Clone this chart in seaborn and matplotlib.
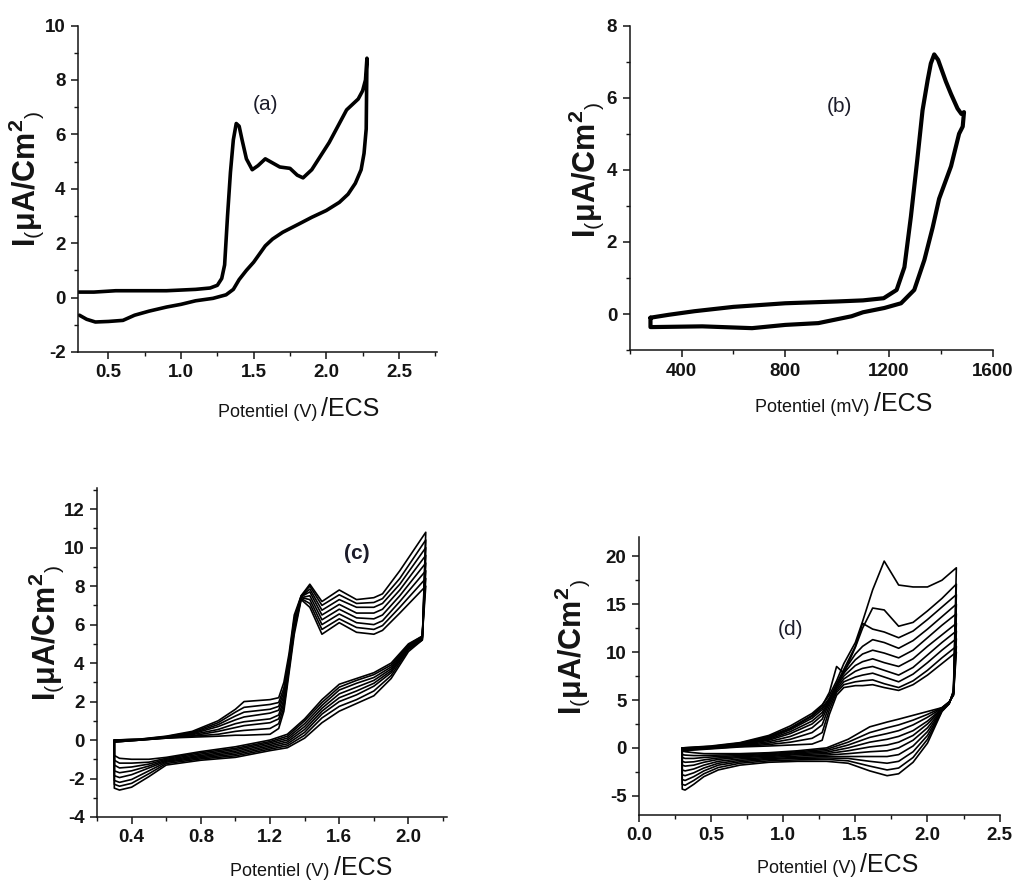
import numpy as np
import pandas as pd
import matplotlib
matplotlib.use("Agg")
import matplotlib.pyplot as plt
from matplotlib.ticker import MultipleLocator
import seaborn as sns

# ---------------- data ----------------
# (a) single cycle
Ea_fwd = [0.29, 0.40, 0.55, 0.70, 0.90, 1.10, 1.20, 1.25, 1.28, 1.30, 1.32, 1.34, 1.36, 1.38, 1.40,
          1.42, 1.45, 1.49, 1.53, 1.58, 1.63, 1.68, 1.75, 1.80, 1.84, 1.90, 1.96, 2.02, 2.08, 2.14,
          2.18, 2.22, 2.25, 2.27, 2.28]
Ia_fwd = [0.20, 0.20, 0.25, 0.25, 0.25, 0.30, 0.35, 0.45, 0.70, 1.20, 3.00, 4.60, 5.80, 6.40, 6.30,
          5.80, 5.10, 4.70, 4.85, 5.10, 4.95, 4.80, 4.75, 4.50, 4.40, 4.70, 5.20, 5.70, 6.30, 6.90,
          7.10, 7.30, 7.60, 8.00, 8.80]
Ea_rev = [2.28, 2.275, 2.26, 2.24, 2.20, 2.15, 2.09, 2.00, 1.90, 1.81, 1.70, 1.63, 1.58, 1.50, 1.45,
          1.40, 1.36, 1.31, 1.22, 1.10, 1.00, 0.90, 0.78, 0.68, 0.60, 0.50, 0.41, 0.35, 0.30]
Ia_rev = [8.80, 6.20, 5.30, 4.70, 4.20, 3.80, 3.50, 3.20, 2.95, 2.70, 2.40, 2.15, 1.90, 1.30, 1.00,
          0.66, 0.30, 0.10, -0.03, -0.12, -0.25, -0.35, -0.50, -0.65, -0.84, -0.88, -0.90, -0.80, -0.65]

# (b) single cycle, potential in mV
Eb_fwd = [280, 350, 450, 600, 800, 1000, 1100, 1180, 1230, 1260, 1285, 1310, 1330, 1350, 1362, 1375,
          1390, 1400, 1420, 1440, 1465, 1480, 1490]
Ib_fwd = [-0.10, -0.02, 0.08, 0.20, 0.30, 0.35, 0.38, 0.44, 0.67, 1.30, 2.70, 4.30, 5.65, 6.50, 6.95,
          7.20, 7.05, 6.85, 6.45, 6.10, 5.70, 5.55, 5.60]
Eb_rev = [1490, 1485, 1471, 1440, 1394, 1369, 1337, 1298, 1247, 1183, 1100, 1056, 928, 800, 672, 480,
          289, 280]
Ib_rev = [5.60, 5.20, 5.00, 4.10, 3.20, 2.40, 1.50, 0.67, 0.30, 0.17, 0.05, -0.06, -0.25, -0.30, -0.39,
          -0.34, -0.36, -0.36]

# (c) repeated cycles
Ec_fwd = [0.30, 0.45, 0.60, 0.75, 0.90, 1.00, 1.05, 1.20, 1.25, 1.28, 1.31, 1.34, 1.38, 1.43, 1.50,
          1.60, 1.70, 1.80, 1.85, 1.95, 2.10]
Ic_fwd = [
    [-0.10, 0.00, 0.10, 0.15, 0.20, 0.25, 0.25, 0.30, 0.60, 1.50, 3.50, 5.50, 7.30, 6.90, 5.50, 6.10, 5.60, 5.50, 5.70, 6.60, 8.00],
    [-0.10, 0.00, 0.10, 0.20, 0.30, 0.45, 0.50, 0.60, 0.85, 1.70, 3.70, 5.70, 7.35, 7.10, 5.75, 6.30, 5.85, 5.75, 5.95, 6.90, 8.40],
    [-0.10, 0.00, 0.12, 0.22, 0.45, 0.65, 0.75, 0.90, 1.10, 1.90, 3.80, 5.80, 7.40, 7.30, 6.00, 6.55, 6.10, 6.00, 6.20, 7.20, 8.80],
    [-0.05, 0.02, 0.13, 0.28, 0.55, 0.85, 0.95, 1.10, 1.30, 2.10, 3.90, 5.90, 7.40, 7.50, 6.25, 6.80, 6.35, 6.30, 6.50, 7.50, 9.20],
    [-0.05, 0.02, 0.15, 0.32, 0.70, 1.05, 1.20, 1.40, 1.55, 2.30, 4.00, 6.00, 7.45, 7.70, 6.50, 7.05, 6.60, 6.60, 6.80, 7.80, 9.60],
    [0.00, 0.03, 0.16, 0.36, 0.80, 1.25, 1.45, 1.60, 1.75, 2.50, 4.20, 6.20, 7.45, 7.85, 6.75, 7.30, 6.90, 6.90, 7.10, 8.10, 10.00],
    [0.00, 0.04, 0.18, 0.40, 0.90, 1.45, 1.70, 1.85, 1.95, 2.70, 4.30, 6.30, 7.50, 8.00, 7.00, 7.55, 7.10, 7.15, 7.35, 8.40, 10.40],
    [0.00, 0.05, 0.20, 0.45, 1.00, 1.60, 2.00, 2.10, 2.20, 3.00, 4.50, 6.50, 7.50, 8.10, 7.20, 7.80, 7.30, 7.40, 7.60, 8.80, 10.80],
]
Ec_rev = [2.10, 2.08, 2.00, 1.90, 1.80, 1.70, 1.60, 1.50, 1.40, 1.30, 1.20, 1.00, 0.80, 0.60, 0.50,
          0.40, 0.33, 0.30]
Ic_rev = [
    [8.0, 5.40, 5.00, 4.00, 3.50, 3.20, 2.90, 2.10, 1.10, 0.30, 0.00, -0.35, -0.60, -0.90, -1.00, -1.00, -0.95, -0.80],
    [8.4, 5.40, 4.95, 3.90, 3.40, 3.10, 2.75, 1.95, 1.00, 0.20, -0.08, -0.43, -0.66, -0.95, -1.15, -1.20, -1.20, -1.05],
    [8.8, 5.35, 4.90, 3.80, 3.25, 2.95, 2.60, 1.80, 0.85, 0.10, -0.15, -0.50, -0.73, -1.00, -1.25, -1.40, -1.45, -1.30],
    [9.2, 5.30, 4.85, 3.70, 3.10, 2.75, 2.40, 1.65, 0.70, 0.00, -0.23, -0.58, -0.80, -1.05, -1.35, -1.60, -1.70, -1.60],
    [9.6, 5.30, 4.80, 3.60, 2.95, 2.55, 2.20, 1.50, 0.55, -0.10, -0.31, -0.66, -0.86, -1.10, -1.45, -1.80, -1.95, -1.85],
    [10.0, 5.25, 4.75, 3.50, 2.80, 2.35, 2.00, 1.35, 0.40, -0.20, -0.39, -0.74, -0.92, -1.15, -1.60, -2.05, -2.20, -2.10],
    [10.4, 5.20, 4.70, 3.35, 2.55, 2.10, 1.75, 1.15, 0.25, -0.30, -0.47, -0.82, -0.98, -1.22, -1.75, -2.25, -2.40, -2.30],
    [10.8, 5.20, 4.60, 3.20, 2.30, 1.90, 1.50, 0.90, 0.10, -0.40, -0.55, -0.90, -1.05, -1.30, -1.90, -2.45, -2.60, -2.50],
]

# (d) repeated cycles
Ed_fwd = [0.30, 0.50, 0.70, 0.90, 1.05, 1.20, 1.27, 1.32, 1.37, 1.42, 1.50, 1.55, 1.62, 1.70, 1.80,
          1.90, 2.00, 2.10, 2.20]
Id_fwd = [
    [-0.30, -0.10, 0.10, 0.20, 0.30, 0.40, 0.80, 3.50, 5.50, 6.30, 6.50, 6.50, 6.60, 6.30, 6.00, 6.60, 7.60, 8.80, 10.00],
    [-0.25, -0.05, 0.15, 0.35, 0.60, 1.00, 1.60, 4.00, 5.80, 6.60, 6.90, 7.00, 7.10, 6.70, 6.30, 7.00, 8.10, 9.40, 10.60],
    [-0.20, 0.00, 0.20, 0.50, 0.90, 1.60, 2.40, 4.40, 6.00, 6.90, 7.40, 7.60, 7.80, 7.40, 6.90, 7.70, 8.90, 10.20, 11.40],
    [-0.15, 0.00, 0.25, 0.65, 1.20, 2.10, 3.00, 4.70, 6.20, 7.20, 8.00, 8.30, 8.50, 8.10, 7.60, 8.40, 9.70, 11.00, 12.20],
    [-0.10, 0.05, 0.30, 0.80, 1.50, 2.50, 3.40, 4.90, 6.40, 7.50, 8.60, 9.00, 9.30, 8.90, 8.50, 9.30, 10.60, 11.80, 13.00],
    [-0.10, 0.05, 0.35, 0.90, 1.70, 2.80, 3.70, 5.00, 6.50, 7.80, 9.20, 9.80, 10.20, 9.90, 9.40, 10.20, 11.50, 12.80, 14.00],
    [-0.05, 0.10, 0.40, 1.00, 1.90, 3.10, 4.00, 5.10, 6.60, 8.00, 9.80, 10.60, 11.30, 11.00, 10.40, 11.20, 12.40, 13.70, 15.00],
    [-0.05, 0.10, 0.45, 1.10, 2.00, 3.30, 4.20, 5.20, 6.70, 8.20, 10.60, 13.00, 12.40, 12.10, 11.50, 12.20, 13.40, 14.70, 16.00],
    [0.00, 0.15, 0.50, 1.20, 2.10, 3.40, 4.40, 5.80, 8.50, 7.80, 10.50, 12.50, 14.60, 14.40, 12.70, 13.10, 14.30, 15.60, 17.10],
    [0.00, 0.20, 0.55, 1.30, 2.30, 3.60, 4.50, 5.50, 7.00, 8.80, 11.00, 13.20, 16.50, 19.50, 17.00, 16.80, 16.80, 17.50, 18.80],
]
Ed_rev = [2.20, 2.18, 2.15, 2.10, 2.00, 1.90, 1.80, 1.72, 1.60, 1.45, 1.30, 1.10, 0.90, 0.70, 0.55,
          0.45, 0.38, 0.32, 0.30]
Id_rev = [
    [10.0, 5.5, 4.80, 4.20, 3.8, 3.4, 3.0, 2.7, 2.2, 0.9, 0.00, -0.30, -0.50, -0.60, -0.60, -0.60, -0.50, -0.40, -0.30],
    [10.6, 5.5, 4.80, 4.20, 3.5, 2.9, 2.4, 2.1, 1.6, 0.6, -0.15, -0.40, -0.60, -0.70, -0.75, -0.80, -0.80, -0.75, -0.70],
    [11.4, 5.6, 4.75, 4.15, 3.2, 2.4, 1.8, 1.5, 1.1, 0.3, -0.30, -0.50, -0.70, -0.80, -0.90, -1.00, -1.10, -1.10, -1.00],
    [12.2, 5.6, 4.70, 4.10, 2.8, 1.8, 1.2, 0.9, 0.6, 0.0, -0.45, -0.60, -0.80, -0.90, -1.05, -1.25, -1.45, -1.50, -1.40],
    [13.0, 5.7, 4.70, 4.05, 2.5, 1.3, 0.6, 0.3, 0.1, -0.3, -0.60, -0.70, -0.90, -1.00, -1.20, -1.50, -1.80, -1.90, -1.80],
    [14.0, 5.7, 4.70, 4.00, 2.1, 0.8, 0.0, -0.3, -0.4, -0.6, -0.75, -0.85, -1.00, -1.15, -1.40, -1.80, -2.20, -2.40, -2.30],
    [15.0, 5.8, 4.65, 3.95, 1.7, 0.2, -0.7, -0.9, -0.9, -0.9, -0.90, -1.00, -1.10, -1.30, -1.60, -2.10, -2.60, -2.90, -2.80],
    [16.0, 5.8, 4.65, 3.90, 1.3, -0.4, -1.4, -1.6, -1.4, -1.1, -1.05, -1.10, -1.20, -1.45, -1.80, -2.40, -3.00, -3.40, -3.30],
    [17.1, 5.9, 4.60, 3.85, 0.9, -1.0, -2.1, -2.3, -1.9, -1.35, -1.20, -1.25, -1.35, -1.60, -2.05, -2.70, -3.40, -3.90, -3.80],
    [18.8, 6.0, 4.60, 3.80, 0.5, -1.5, -2.7, -2.9, -2.4, -1.6, -1.40, -1.40, -1.50, -1.80, -2.30, -3.00, -3.80, -4.40, -4.30],
]


def cycles_frame(e_fwd, i_fwd_list, e_rev, i_rev_list, close=True):
    rows = []
    for k, (f, r) in enumerate(zip(i_fwd_list, i_rev_list)):
        E = list(e_fwd) + list(e_rev) + ([e_fwd[0]] if close else [])
        I = list(f) + list(r) + ([f[0]] if close else [])
        for j, (x, y) in enumerate(zip(E, I)):
            rows.append({"E": x, "I": y, "cycle": k, "order": j})
    return pd.DataFrame(rows)


df_a = cycles_frame(Ea_fwd, [Ia_fwd], Ea_rev, [Ia_rev], close=False)
df_b = cycles_frame(Eb_fwd, [Ib_fwd], Eb_rev, [Ib_rev])
df_c = cycles_frame(Ec_fwd, Ic_fwd, Ec_rev, Ic_rev)
df_d = cycles_frame(Ed_fwd, Id_fwd, Ed_rev, Id_rev)

# ---------------- style ----------------
sns.set_theme(style="ticks")
plt.rcParams["font.family"] = ["Liberation Sans", "DejaVu Sans"]
plt.rcParams["mathtext.fontset"] = "custom"
plt.rcParams["mathtext.rm"] = "Liberation Sans"
plt.rcParams["mathtext.bf"] = "Liberation Sans:bold"
plt.rcParams["axes.linewidth"] = 1.1
TXT = "#141414"

fig = plt.figure(figsize=(10.19, 8.82), dpi=100)

panels = [
    dict(df=df_a, rect=[0.0765, 0.601, 0.352, 0.370], lw=2.6, xlim=(0.29, 2.76), ylim=(-2, 10),
         xmaj=0.5, xmin=0.25, ymaj=2, ymin=1, xfmt="{:.1f}", tag="(a)", tagxy=(1.58, 7.1), tagbold=False,
         unit="Potentiel (V)", ylc=(-0.088, 0.53), xlc=(0.528, -0.187)),
    dict(df=df_b, rect=[0.618, 0.603, 0.356, 0.368], lw=3.0, xlim=(200, 1600), ylim=(-1, 8),
         xmaj=400, xmin=200, ymaj=2, ymin=1, xfmt="{:.0f}", tag="(b)", tagxy=(1010, 5.75), tagbold=False,
         unit="Potentiel (mV)", ylc=(-0.066, 0.555), xlc=(0.504, -0.178)),
    dict(df=df_c, rect=[0.0952, 0.0737, 0.343, 0.373], lw=1.2, xlim=(0.2, 2.22), ylim=(-4, 13.1),
         xmaj=0.4, xmin=0.2, ymaj=2, ymin=1, xfmt="{:.1f}", tag="(c)", tagxy=(1.70, 9.7), tagbold=True,
         unit="Potentiel (V)", ylc=(-0.088, 0.56), xlc=(0.523, -0.167)),
    dict(df=df_d, rect=[0.627, 0.0760, 0.354, 0.315], lw=1.2, xlim=(0.0, 2.5), ylim=(-7, 22),
         xmaj=0.5, xmin=0.25, ymaj=5, ymin=2.5, xfmt="{:.1f}", tag="(d)", tagxy=(1.05, 12.4), tagbold=False,
         unit="Potentiel (V)", ylc=(-0.130, 0.605), xlc=(0.464, -0.191)),
]

ylab = r"$\mathbf{I}{}_{(}\mathbf{\mu A/Cm}^{\mathbf{2}}{}_{)}$"

for p in panels:
    ax = fig.add_axes(p["rect"])
    sns.lineplot(data=p["df"], x="E", y="I", units="cycle", estimator=None, sort=False,
                 color="black", lw=p["lw"], ax=ax, legend=False)
    ax.set_xlim(*p["xlim"])
    ax.set_ylim(*p["ylim"])
    sns.despine(ax=ax)
    ax.xaxis.set_major_locator(MultipleLocator(p["xmaj"]))
    ax.xaxis.set_minor_locator(MultipleLocator(p["xmin"]))
    ax.yaxis.set_major_locator(MultipleLocator(p["ymaj"]))
    ax.yaxis.set_minor_locator(MultipleLocator(p["ymin"]))
    ax.tick_params(which="major", direction="out", length=5, width=1.1, labelsize=13.5,
                   colors=TXT, pad=4)
    ax.tick_params(which="minor", direction="out", length=3, width=1.0, colors=TXT)
    fmt = p["xfmt"]
    ax.xaxis.set_major_formatter(matplotlib.ticker.FuncFormatter(lambda v, _, f=fmt: f.format(v)))
    ax.yaxis.set_major_formatter(matplotlib.ticker.FuncFormatter(lambda v, _: "{:g}".format(v)))
    for lab in ax.get_xticklabels() + ax.get_yticklabels():
        lab.set_fontweight("bold")
    for sp in ax.spines.values():
        sp.set_color(TXT)

    ax.set_ylabel(ylab, fontsize=22, color=TXT)
    ax.yaxis.set_label_coords(*p["ylc"])
    ax.set_xlabel(p["unit"], fontsize=13, color=TXT, va="center")
    ax.xaxis.set_label_coords(*p["xlc"])
    ax.annotate("/ECS", xy=(1, 0), xycoords=ax.xaxis.label, xytext=(3, 0),
                textcoords="offset points", ha="left", va="bottom", fontsize=18, color=TXT)
    ax.text(p["tagxy"][0], p["tagxy"][1], p["tag"], ha="center", va="center",
            fontsize=15, fontweight="bold" if p["tagbold"] else "normal",
            color="#1c1c2a")

fig.savefig("out.png", dpi=100)
